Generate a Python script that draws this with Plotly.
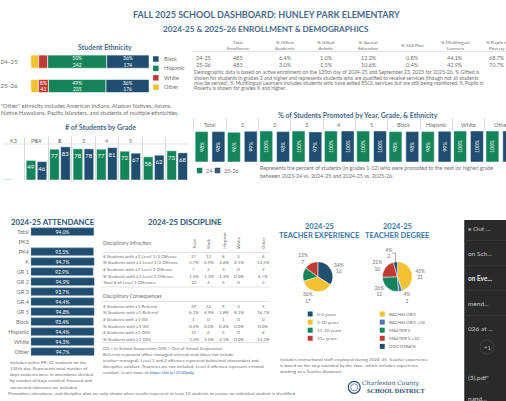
import plotly.graph_objects as go

W, H = 506, 401
def X(p): return p / W
def Y(p): return 1 - p / H

FONT = "Lato, 'Open Sans', sans-serif"
NAVY = "#1f4e70"
GREEN = "#14855b"
RED = "#c23b33"
YELLOW = "#f2c232"
BLUE = "#5272b4"
TITLE_C = "#46698b"
DARK_T = "#2b5676"
TEACH_T = "#3a79a8"
GRAY = "#707070"
LINE = "#d9d9d9"

# ---------------- data ----------------
eth_years = ["24-25", "25-26"]
eth_names = ["Black", "Hispanic", "White", "Other"]
eth_black = [174, 176]
eth_hispanic = [242, 235]
eth_white = [37, 41]
eth_other = [32, 31]

enr_headers = ["Total<br>Enrollment", "% Gifted<br>Academic", "% Gifted<br>Artistic",
               "% Special<br>Education", "% 504 Plan", "% Multilingual<br>Learners",
               "% Pupils in<br>Poverty"]
enr_years = ["24-25", "25-26"]
enr_2425 = ["485", "6.4%", "1.0%", "12.2%", "0.8%", "44.1%", "68.7%"]
enr_2526 = ["483", "3.0%", "1.5%", "10.6%", "0.4%", "42.9%", "70.7%"]

grades = ["K3", "PK4", "K", "1", "2", "3", "4", "5"]
grade_2425 = [1, 49, 77, 78, 77, 72, 58, 73]
grade_2526 = [None, 46, 83, 78, 81, 67, 62, 68]

promo_cats = ["Total", "1", "2", "3", "4", "5", "Black", "Hispanic", "White", "Other"]
promo_2425 = [98, 96, 100, 100, 100, 100, 98, 98, 100, 100]
promo_2526 = [98, 99, 98, 97, 100, 100, 98, 99, 100, 100]

att_cats = ["Total", "PK3", "PK4", "K", "GR 1", "GR 2", "GR 3", "GR 4", "GR 5",
            "Black", "Hispanic", "White", "Other"]
att_vals = [94.0, None, 93.5, 94.7, 92.9, 94.9, 93.7, 94.4, 94.8, 93.4, 94.4, 94.3, 94.7]

disc_cols = ["Total", "Black", "Hispanic", "White", "Other"]
infr_labels = ["# Students with \u22651 Level 1/2 Offense", "% Students with \u22651 Level 1/2 Offense",
               "# Students with \u22651 Level 3 Offense", "% Students with \u22651 Level 3 Offense",
               "Total # of Level 3 Offenses"]
infr_vals = [["27", "12", "8", "3", "4"],
             ["5.7%", "6.9%", "3.4%", "8.1%", "13.3%"],
             ["7", "2", "3", "0", "2"],
             ["1.5%", "1.2%", "1.3%", "0.0%", "6.7%"],
             ["10", "3", "5", "0", "2"]]
cons_labels = ["# Students with \u22651 Referral", "% Students with \u22651 Referral",
               "# Students with \u22651 ISS", "% Students with \u22651 ISS",
               "# Students with \u22651 OSS", "% Students with \u22651 OSS"]
cons_vals = [["29", "12", "9", "3", "5"],
             ["6.1%", "6.9%", "3.8%", "8.1%", "16.7%"],
             ["1", "0", "1", "0", "0"],
             ["0.2%", "0.0%", "0.4%", "0.0%", "0.0%"],
             ["15", "6", "5", "0", "4"],
             ["3.2%", "3.5%", "2.1%", "0.0%", "13.3%"]]

exp_labels = ["0-2 years", "3-10 years", "11-20 years", "21+ years"]
exp_vals = [16, 17, 7, 7]
exp_show = [True, True, False, True]
deg_labels = ["BACHELOR'S", "BACHELOR'S +18", "MASTER'S", "MASTER'S +30", "DOCTORATE"]
deg_vals = [21, 2, 12, 10, 2]
deg_show = [True, True, True, True, True]

# ---------------- figure ----------------
fig = go.Figure()
ann = []
shapes = []

def text(x, y, t, size=5, color=GRAY, xa="left", ya="middle", angle=0, **kw):
    ann.append(dict(x=X(x), y=Y(y), xref="paper", yref="paper", text=t, showarrow=False,
                    xanchor=xa, yanchor=ya, textangle=angle,
                    font=dict(size=size, color=color, family=kw.pop("family", FONT)), **kw))

def hline(x0, x1, y, color=LINE, w=0.7):
    shapes.append(dict(type="line", xref="paper", yref="paper", x0=X(x0), x1=X(x1),
                       y0=Y(y), y1=Y(y), line=dict(color=color, width=w)))

def swatch(x, y, color, s=5):
    shapes.append(dict(type="rect", xref="paper", yref="paper", x0=X(x), x1=X(x + s),
                       y0=Y(y + s / 2), y1=Y(y - s / 2), fillcolor=color, line=dict(width=0)))

# Titles
text(265, 14, "<b>FALL 2025 SCHOOL DASHBOARD: HUNLEY PARK ELEMENTARY</b>", 9, TITLE_C, "center")
text(265, 29, "<b>2024-25 & 2025-26 ENROLLMENT & DEMOGRAPHICS</b>", 8.2, TITLE_C, "center")

# --- Ethnicity stacked bars ---
eth_series = [("Other", eth_other, YELLOW), ("White", eth_white, RED),
              ("Hispanic", eth_hispanic, GREEN), ("Black", eth_black, NAVY)]
totals = [sum(v) for v in zip(eth_black, eth_hispanic, eth_white, eth_other)]
base = [0.0] * len(eth_years)
for name, counts, color in eth_series:
    pct = [c / t * 100 for c, t in zip(counts, totals)]
    txt = [f"{p:.0f}%<br>{c}" if p >= 8 else "" for p, c in zip(pct, counts)]
    fig.add_trace(go.Bar(x=pct, y=eth_years, base=base, orientation="h", name=name,
                         marker=dict(color=color, line=dict(color="white", width=0.6)),
                         width=0.54, offset=-0.27, text=txt, textposition="inside",
                         insidetextanchor="middle", textangle=0, constraintext="none",
                         textfont=dict(size=5, color="white", family=FONT),
                         xaxis="x", yaxis="y", hoverinfo="skip"))
    base = [b + p for b, p in zip(base, pct)]
text(103, 47, "<b>Student Ethnicity</b>", 7, TITLE_C, "center")
eth_colors = {"Black": NAVY, "Hispanic": GREEN, "White": RED, "Other": YELLOW}
for i, n in enumerate(eth_names):
    yy = 59 + i * 9.4
    swatch(151, yy, eth_colors[n], 5.5)
    text(160, yy, n, 5.5)
text(-4, 105.7, '"Other" ethnicity includes American Indians, Alaskan Natives, Asians,', 5.7)
text(-4, 112.3, 'Native Hawaiians, Pacific Islanders, and students of multiple ethnicities.', 5.7)

# --- Enrollment table ---
enr_x = [236, 284, 325, 368, 412, 455, 497]
for cx, h in zip(enr_x, enr_headers):
    text(cx, 44.5, h, 4.6, GRAY, "center")
hline(190, 506, 51.5)
for ry, yr, vals in [(57.5, enr_years[0], enr_2425), (64.5, enr_years[1], enr_2526)]:
    text(192, ry, yr, 5.5)
    for cx, v in zip(enr_x, vals):
        text(cx, ry, v, 5.5, GRAY, "center")
note = ["Demographic data is based on active enrollment on the 135th day of 2024-25 and September 23, 2025 for 2025-26. % Gifted is",
        "shown for students in grades 3 and higher and represents students who are qualified to receive services (though not all students",
        "may be served). % Multilingual Learners includes students who have exited ESOL services but are still being monitored. % Pupils in",
        "Poverty is shown for grades K and higher."]
for i, l in enumerate(note):
    text(190, 72.3 + i * 5.3, l, 5.1)

# --- # of students by grade ---
for vals, color, off in [(grade_2425, GREEN, -0.44), (grade_2526, NAVY, 0.03)]:
    txt = [str(v) if v is not None and v >= 10 else "" for v in vals]
    fig.add_trace(go.Bar(x=grades, y=vals, width=0.41, offset=off,
                         marker=dict(color=color, line=dict(color="white", width=0.5)),
                         text=txt, textposition="inside", insidetextanchor="end",
                         constraintext="none", textangle=0,
                         textfont=dict(size=6, color="white", family=FONT),
                         xaxis="x2", yaxis="y2", hoverinfo="skip"))
text(98, 127, "<b># of Students by Grade</b>", 7, TITLE_C, "center")
for g in grades:
    ann.append(dict(x=g, y=Y(140.5), xref="x2", yref="paper", text=g, showarrow=False,
                    xanchor="center", yanchor="middle", font=dict(size=5.5, color=GRAY, family=FONT)))
hline(0, 187, 144)

# --- promotion ---
for vals, color, off in [(promo_2425, GREEN, -0.46), (promo_2526, NAVY, 0.06)]:
    fig.add_trace(go.Bar(x=promo_cats, y=vals, width=0.40, offset=off,
                         marker=dict(color=color, line=dict(color="white", width=0.5)),
                         text=[f"{v}%" for v in vals], textposition="inside",
                         insidetextanchor="middle", textangle=-90, constraintext="none",
                         textfont=dict(size=5, color="white", family=FONT),
                         xaxis="x3", yaxis="y3", hoverinfo="skip"))
text(357, 116, "<b>% of Students Promoted by Year, Grade, & Ethnicity</b>", 7, TITLE_C, "center")
for c in promo_cats:
    ann.append(dict(x=c, y=Y(124.5), xref="x3", yref="paper", text=c, showarrow=False,
                    xanchor="center", yanchor="middle", font=dict(size=5.5, color=GRAY, family=FONT)))
swatch(195, 170.5, GREEN, 5.5)
text(202, 170.5, "24-25", 5.5)
swatch(213, 170.5, NAVY, 5.5)
text(220, 170.5, "25-26", 5.5)
text(256.7, 168.3, "Represents the percent of students (in grades 1-12) who were promoted to the next (or higher) grade", 5.3)
text(256.7, 175.5, "between 2023-24 vs. 2024-25 and 2024-25 vs. 2025-26.", 5.3)

# --- attendance ---
fig.add_trace(go.Bar(x=att_vals, y=att_cats, orientation="h", width=0.78, offset=-0.39,
                     marker=dict(color=NAVY, line=dict(color="#8ea6ba", width=0.6)),
                     text=[f"{v:.1f}%" if v is not None else "" for v in att_vals],
                     textposition="inside", insidetextanchor="middle", textangle=0,
                     constraintext="none", textfont=dict(size=5, color="white", family=FONT),
                     xaxis="x4", yaxis="y4", hoverinfo="skip"))
text(50, 222, "<b>2024-25 ATTENDANCE</b>", 7.8, DARK_T, "center")
att_note = ["Includes active PK-12 students on the", "135th day. Represents total number of",
            "days students were in attendance divided", "by number of days enrolled. Excused and",
            "unexcused absences are included."]
for i, l in enumerate(att_note):
    text(5, 361.7 + i * 6.2, l, 4.6)

# --- discipline ---
text(183, 222, "<b>2024-25 DISCIPLINE</b>", 7.8, DARK_T, "center")
dcx = [192, 207, 222, 237, 262]
for cx, c in zip(dcx, disc_cols):
    text(cx, 251, c, 4.5, GRAY, "center", "bottom", angle=-90)
text(99, 243, "Disciplinary Infraction", 5)
hline(99, 268, 252.5)
for i, (lab, vals) in enumerate(zip(infr_labels, infr_vals)):
    yy = 256 + i * 6.7
    text(99, yy, lab, 4.5)
    for cx, v in zip(dcx, vals):
        text(cx, yy, v, 4.5, GRAY, "center")
hline(99, 268, 287)
text(99, 296, "Disciplinary Consequences", 5)
hline(99, 268, 301.5)
for i, (lab, vals) in enumerate(zip(cons_labels, cons_vals)):
    yy = 306.2 + i * 6.6
    text(99, yy, lab, 4.5)
    for cx, v in zip(dcx, vals):
        text(cx, yy, v, 4.5, GRAY, "center")
hline(99, 268, 342.5)
disc_note = ["ISS = In School Suspension; OSS = Out of School Suspension",
             "Referrals represent office-managed referrals only (does not include",
             "teacher-managed). Level 1 and 2 offenses represent behavioral misconduct and",
             "disruptive conduct. Truancies are not included. Level 3 offenses represent criminal",
             "conduct. Learn more at <span style='color:#3d6fb0'>https://bit.ly/3CS0pdq</span>."]
for i, l in enumerate(disc_note):
    text(99, 348 + i * 6, l, 4.5)
text(3, 393, "Promotion, attendance, and discipline data are only shown when results represent at least 10 students to ensure no individual student is identified.", 4.5)

# --- teacher pies ---
def pie_text(vals, show):
    tot = sum(vals)
    return [f"{round(v / tot * 100)}%<br>{v}" if s else "" for v, s in zip(vals, show)]

fig.add_trace(go.Pie(labels=exp_labels, values=exp_vals, sort=False, direction="clockwise",
                     rotation=0, marker=dict(colors=[NAVY, YELLOW, GREEN, RED],
                                             line=dict(color="white", width=0.5)),
                     text=pie_text(exp_vals, exp_show), textinfo="text", textposition="outside",
                     textfont=dict(size=5, color=GRAY, family=FONT),
                     domain=dict(x=[X(301.7), X(331.7)], y=[Y(291.7), Y(261.7)]),
                     showlegend=False, hoverinfo="skip"))
fig.add_trace(go.Pie(labels=deg_labels, values=deg_vals, sort=False, direction="clockwise",
                     rotation=0, marker=dict(colors=[YELLOW, BLUE, GREEN, RED, NAVY],
                                             line=dict(color="white", width=0.5)),
                     text=pie_text(deg_vals, deg_show), textinfo="text", textposition="outside",
                     textfont=dict(size=5, color=GRAY, family=FONT),
                     domain=dict(x=[X(381.7), X(411.7)], y=[Y(291.7), Y(261.7)]),
                     showlegend=False, hoverinfo="skip"))
text(318, 226.7, "<b>2024-25</b>", 7.5, TEACH_T, "center")
text(318, 235.7, "<b>TEACHER EXPERIENCE</b>", 7.5, TEACH_T, "center")
text(396.7, 226.7, "<b>2024-25</b>", 7.5, TEACH_T, "center")
text(396.7, 235.7, "<b>TEACHER DEGREE</b>", 7.5, TEACH_T, "center")
for i, (lab, col) in enumerate(zip(exp_labels, [NAVY, YELLOW, GREEN, RED])):
    yy = 314 + i * 8.1
    swatch(306.5, yy, col, 5)
    text(314, yy, lab, 4.6)
for i, (lab, col) in enumerate(zip(deg_labels, [YELLOW, BLUE, GREEN, RED, NAVY])):
    yy = 314 + i * 8.1
    swatch(379, yy, col, 5)
    text(386.5, yy, lab, 4.5)
teach_note = ["Includes instructional staff employed during 2024-25. Teacher experience",
              "is based on the step awarded by the state, which includes experience",
              "working as a Teacher Assistant."]
for i, l in enumerate(teach_note):
    text(276.7, 359 + i * 5.8, l, 4.6)

# logo
shapes.append(dict(type="circle", xref="paper", yref="paper", x0=X(347.3), x1=X(359.3),
                   y0=Y(393.3), y1=Y(381.3), line=dict(color="#2a4d78", width=1.2)))
shapes.append(dict(type="circle", xref="paper", yref="paper", x0=X(349.8), x1=X(356.8),
                   y0=Y(390.8), y1=Y(383.8), line=dict(color="#2a4d78", width=0.6)))
text(390, 383, "<i>Charleston County</i>", 6, "#2a4d78", "center", family="DejaVu Serif")
text(395, 390.5, "<b>SCHOOL DISTRICT</b>", 6.2, "#2a4d78", "center", family="Liberation Serif")

# dark side panel
shapes.append(dict(type="rect", xref="paper", yref="paper", x0=X(464), x1=1.0, y0=0, y1=Y(220),
                   fillcolor="#2a2a2a", line=dict(width=0), layer="above"))
panel = [(228, "e Out ...", "#c8c8c8"), (253, "on Sch...", "#c8c8c8"), (278, "<b>on Eve...</b>", "#e8e8e8"),
         (303, "mend...", "#c8c8c8"), (328, "026 at ...", "#c8c8c8"), (377, '(3).pdf"', "#c8c8c8"),
         (398, "nand...", "#c8c8c8")]
for yy, t, c in panel:
    text(466, yy, t, 6.5, c)
for yy in [240.5, 265.5, 290.5, 315.5]:
    hline(464, 506, yy, "#3a3a3a", 0.6)
shapes.append(dict(type="circle", xref="paper", yref="paper", x0=X(480), x1=X(494),
                   y0=Y(354), y1=Y(340), line=dict(color="#4a4a4a", width=0.8), layer="above"))
text(487, 347, "+1", 6, "#bbbbbb", "center")

fig.update_layout(
    width=W, height=H, margin=dict(l=0, r=0, t=0, b=0),
    paper_bgcolor="white", plot_bgcolor="white", showlegend=False, barmode="overlay",
    font=dict(family=FONT, color=GRAY, size=6),
    xaxis=dict(domain=[X(28), X(147)], range=[0, 100], visible=False, anchor="y"),
    yaxis=dict(domain=[Y(98.2), Y(49.5)], type="category", categoryarray=eth_years,
               categoryorder="array", range=[1.5, -0.5], showgrid=False, zeroline=False,
               ticks="", showline=False, ticklabelstandoff=12, anchor="x",
               tickfont=dict(size=6.5, color=GRAY, family=FONT)),
    xaxis2=dict(domain=[0, X(187)], type="category", categoryarray=grades, categoryorder="array",
                range=[-0.43, 7.5], tickson="boundaries", showgrid=True, gridcolor=LINE,
                gridwidth=0.7, showticklabels=False, ticks="", zeroline=False, anchor="y2"),
    yaxis2=dict(domain=[Y(180), Y(137)], range=[0, 107.5], visible=False, anchor="x2"),
    xaxis3=dict(domain=[X(192), 1], type="category", categoryarray=promo_cats,
                categoryorder="array", range=[-0.5, 9.16], tickson="boundaries", side="top",
                ticks="outside", ticklen=12, tickcolor=LINE, tickwidth=0.7, showgrid=False,
                showticklabels=False, zeroline=False, anchor="y3"),
    yaxis3=dict(domain=[Y(162), Y(131)], range=[0, 100], visible=False, anchor="x3"),
    xaxis4=dict(domain=[X(28), X(92)], range=[0, 94.9], visible=False, anchor="y4"),
    yaxis4=dict(domain=[Y(356.7), Y(226.7)], type="category", categoryarray=att_cats,
                categoryorder="array", range=[12.5, -0.5], showgrid=False, zeroline=False,
                ticks="", anchor="x4", ticklabelstandoff=1,
                tickfont=dict(size=5.5, color=GRAY, family=FONT)),
    annotations=ann, shapes=shapes,
)
fig.write_html("out.html", config={"displayModeBar": False},
               post_script="document.body.style.margin='0';document.body.style.overflow='hidden';")
